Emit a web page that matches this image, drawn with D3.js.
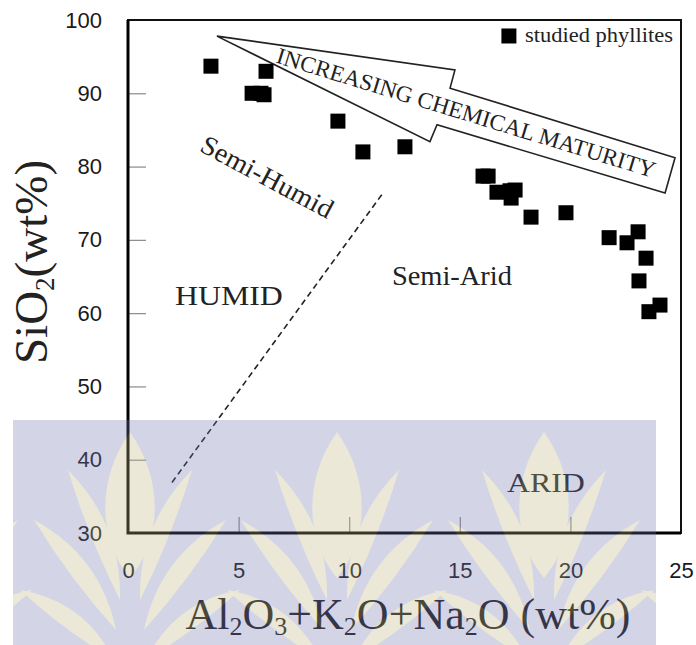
<!DOCTYPE html>
<html>
<head>
<meta charset="utf-8">
<script src="https://cdn.jsdelivr.net/npm/d3@7"></script>
<style>
  body { margin: 0; background: #fff; }
  svg { display: block; }
</style>
</head>
<body>
<svg id="chart" width="696" height="645"></svg>
<script>
// studied phyllites: Al2O3+K2O+Na2O vs SiO2 (wt%)
const oxideSum = [3.75, 6.24, 5.61, 6.01, 6.15, 9.49, 10.62, 12.52, 16.05, 16.28, 16.68, 17.27,
  17.5, 17.32, 18.22, 19.8, 21.75, 23.06, 22.56, 23.42, 23.1, 24.05, 23.55]
const silica = [93.7, 93.0, 90.0, 90.0, 89.8, 86.2, 82.0, 82.7, 78.7, 78.7, 76.5, 76.7,
  76.8, 75.7, 73.1, 73.7, 70.3, 71.1, 69.6, 67.5, 64.4, 61.1, 60.2]

const xTicks = [0, 5, 10, 15, 20, 25]
const yTicks = [30, 40, 50, 60, 70, 80, 90, 100]

// humid / semi-arid boundary (dashed)
const boundary = [[1.99, 36.9], [11.53, 76.4]]

// outline of the "increasing chemical maturity" arrow, in data units
const arrowOutline = [[4.02, 97.8], [14.78, 93.2], [14.56, 90.7], [24.73, 81.2],
  [24.28, 76.4], [13.97, 85.7], [13.65, 83.4]]

const regions = ['HUMID', 'Semi-Arid', 'ARID']
const regionAt = [[2.12, 61.13], [11.93, 63.86], [17.13, 35.63]]

const svg = d3.select('#chart')
const margin = { top: 20, right: 15, bottom: 112, left: 128 }
const W = 696
const H = 645

const x = d3.scaleLinear().domain([0, 25]).range([margin.left, W - margin.right])
const y = d3.scaleLinear().domain([30, 100]).range([H - margin.bottom, margin.top])

const serif = '"Liberation Serif", "Times New Roman", serif'
const sans = '"Liberation Sans", Arial, sans-serif'

// axes: ticks point inward, labels outside
const yAxis = d3.axisLeft(y).tickValues(yTicks).tickSizeInner(-18).tickSizeOuter(0).tickPadding(26)
const xAxis = d3.axisBottom(x).tickValues(xTicks).tickSizeInner(-16).tickSizeOuter(0).tickPadding(29)

const gy = svg.append('g').attr('transform', `translate(${margin.left},0)`).call(yAxis)
const gx = svg.append('g').attr('transform', `translate(0,${H - margin.bottom})`).call(xAxis)

;[gx, gy].forEach(g => {
  g.select('.domain').remove()
  g.selectAll('.tick line').attr('stroke', '#8a8a8a').attr('stroke-width', 1.2)
  g.selectAll('.tick text')
    .attr('fill', '#1a1a1a')
    .style('font-family', sans)
    .style('font-size', '22px')
})
gy.selectAll('.tick').filter(d => d === 30 || d === 100).select('line').remove()
gx.selectAll('.tick').filter(d => d === 0 || d === 25).select('line').remove()

// frame
svg.append('rect')
  .attr('x', x(0)).attr('y', y(100))
  .attr('width', x(25) - x(0)).attr('height', y(30) - y(100))
  .attr('fill', 'none').attr('stroke', '#111').attr('stroke-width', 2)
svg.append('path')
  .attr('d', `M${x(0)},${y(100)}V${y(30)}H${x(25)}`)
  .attr('fill', 'none').attr('stroke', '#000').attr('stroke-width', 3)

// boundary line
svg.append('line')
  .attr('x1', x(boundary[0][0])).attr('y1', y(boundary[0][1]))
  .attr('x2', x(boundary[1][0])).attr('y2', y(boundary[1][1]))
  .attr('stroke', '#222').attr('stroke-width', 1.6).attr('stroke-dasharray', '6,4')

// arrow
svg.append('path')
  .attr('d', d3.line().x(d => x(d[0])).y(d => y(d[1]))(arrowOutline) + 'Z')
  .attr('fill', '#fff').attr('stroke', '#222').attr('stroke-width', 1.6)

const arrowCx = x(15.28)
const arrowCy = y(87.32)
svg.append('text')
  .attr('transform', `translate(${arrowCx},${arrowCy}) rotate(17)`)
  .attr('text-anchor', 'middle')
  .attr('dominant-baseline', 'central')
  .attr('textLength', 395)
  .attr('lengthAdjust', 'spacingAndGlyphs')
  .style('font-family', serif).style('font-size', '23px').attr('fill', '#222')
  .text('INCREASING CHEMICAL MATURITY')

// region labels
const widths = [108, 120, 78]
svg.selectAll('.region')
  .data(regions)
  .enter()
  .append('text')
  .attr('class', 'region')
  .attr('x', (d, i) => x(regionAt[i][0]))
  .attr('y', (d, i) => y(regionAt[i][1]))
  .attr('textLength', (d, i) => widths[i])
  .attr('lengthAdjust', 'spacingAndGlyphs')
  .style('font-family', serif).style('font-size', '27px').attr('fill', '#222')
  .text(d => d)

svg.append('text')
  .attr('transform', `translate(${x(6.1)},${y(77.5)}) rotate(28)`)
  .attr('text-anchor', 'middle')
  .attr('textLength', 146)
  .attr('lengthAdjust', 'spacingAndGlyphs')
  .style('font-family', serif).style('font-size', '27px').attr('fill', '#222')
  .text('Semi-Humid')

// points
const size = 15
svg.append('g')
  .selectAll('rect')
  .data(oxideSum.map((v, i) => [v, silica[i]]))
  .enter()
  .append('rect')
  .attr('x', d => x(d[0]) - size / 2)
  .attr('y', d => y(d[1]) - size / 2)
  .attr('width', size).attr('height', size)
  .attr('fill', '#000')

// legend
svg.append('rect')
  .attr('x', x(17.22) - size / 2).attr('y', y(97.82) - size / 2)
  .attr('width', size).attr('height', size).attr('fill', '#000')
svg.append('text')
  .attr('x', x(17.95)).attr('y', y(97.0))
  .attr('textLength', 148)
  .attr('lengthAdjust', 'spacingAndGlyphs')
  .style('font-family', serif).style('font-size', '21px').attr('fill', '#222')
  .text('studied phyllites')

// axis titles
const yTitle = svg.append('text')
  .attr('transform', `translate(47,${262}) rotate(-90)`)
  .attr('text-anchor', 'middle')
  .style('font-family', serif).style('font-size', '47px').attr('fill', '#222')
yTitle.append('tspan').text('SiO')
yTitle.append('tspan').attr('dy', 7).style('font-size', '27px').text('2')
yTitle.append('tspan').attr('dy', -7).text('(wt%)')

const xTitle = svg.append('text')
  .attr('x', 408).attr('y', 629)
  .attr('text-anchor', 'middle')
  .style('font-family', serif).style('font-size', '44px').attr('fill', '#1a1a1a')
const parts = [['Al', ''], ['2', 's'], ['O', ''], ['3', 's'], ['+K', ''], ['2', 's'],
  ['O+Na', ''], ['2', 's'], ['O (wt%)', '']]
let shifted = false
parts.forEach(([t, k]) => {
  const ts = xTitle.append('tspan').text(t)
  if (k === 's') {
    ts.attr('dy', 6).style('font-size', '26px')
    shifted = true
  } else if (shifted) {
    ts.attr('dy', -6)
    shifted = false
  }
})

// translucent watermark band across the lower part
const wm = svg.append('g').attr('opacity', 0.3)
wm.append('clipPath').attr('id', 'wmclip')
  .append('rect').attr('x', 13).attr('y', 420).attr('width', 643).attr('height', 225)
const wmg = wm.append('g').attr('clip-path', 'url(#wmclip)')
wmg.append('rect').attr('x', 13).attr('y', 420).attr('width', 643).attr('height', 225)
  .attr('fill', 'rgb(115,115,178)')

const petal = 'rgb(190,182,128)'
const leaf = (bx, by, tx, ty, bend) => {
  const mx = (bx + tx) / 2
  const my = (by + ty) / 2
  const dx = ty - by
  const dy = bx - tx
  const len = Math.hypot(dx, dy)
  const nx = dx / len * bend
  const ny = dy / len * bend
  return `M${bx},${by}Q${mx + nx},${my + ny} ${tx},${ty}Q${mx - nx * 0.2},${my - ny * 0.2} ${bx},${by}Z`
}
;[-78, 130, 337, 544, 751].forEach(cx => {
  wmg.append('path')
    .attr('d', `M${cx},432C${cx + 34},480 ${cx + 32},540 ${cx},578C${cx - 32},540 ${cx - 34},480 ${cx},432Z`)
    .attr('fill', petal)
  ;[-1, 1].forEach(s => {
    wmg.append('path').attr('d', leaf(cx + s * 10, 600, cx + s * 62, 470, s * 30)).attr('fill', petal)
    wmg.append('path').attr('d', leaf(cx + s * 14, 630, cx + s * 96, 520, s * 32)).attr('fill', petal)
    wmg.append('path').attr('d', leaf(cx + s * 16, 660, cx + s * 110, 590, s * 30)).attr('fill', petal)
  })
})
</script>
</body>
</html>
